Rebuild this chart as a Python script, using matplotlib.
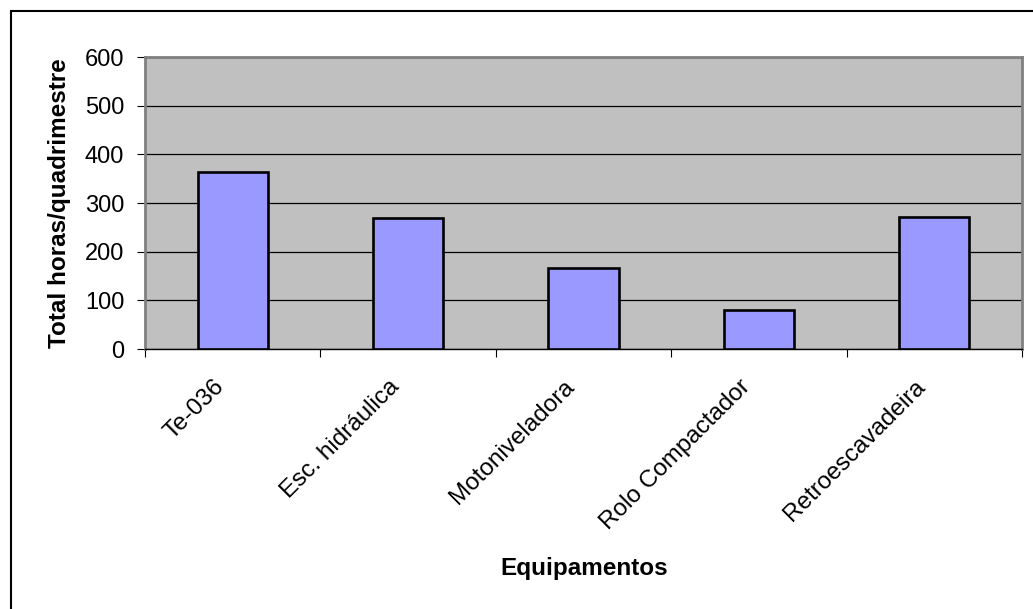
import numpy as np
import matplotlib.pyplot as plt
import matplotlib.transforms as mtransforms
from matplotlib.patches import Rectangle

plt.rcParams['font.family'] = ['Liberation Sans', 'DejaVu Sans']

equipamentos = ["Te-036", "Esc. hidráulica", "Motoniveladora", "Rolo Compactador", "Retroescavadeira"]
horas = [363, 269, 167, 80, 271]
y_ticks = [0, 100, 200, 300, 400, 500, 600]

fig = plt.figure(figsize=(10.33, 6.09), dpi=100)

# outer chart frame (only top and left edges fall inside the image)
fig.patches.append(Rectangle((11 / 1033, -0.1), 1.2, 1 - 11 / 609 + 0.1,
                             transform=fig.transFigure, fill=False,
                             edgecolor='black', linewidth=1.5))

ax = fig.add_axes([145 / 1033, 1 - 349 / 609, (1022 - 145) / 1033, (349 - 57) / 609])
ax.set_facecolor('#C0C0C0')

x = np.arange(len(equipamentos))
ax.bar(x, horas, width=0.4, color='#9999FF', edgecolor='black', linewidth=1.9, zorder=3)

ax.set_xlim(-0.5, len(equipamentos) - 0.5)
ax.set_ylim(0, 600)
ax.set_yticks(y_ticks)
ax.set_yticklabels([str(v) for v in y_ticks], fontsize=17)
ax.yaxis.grid(True, color='black', linewidth=0.9, zorder=1)

# category ticks sit on the boundaries, labels in the middle
ax.set_xticks(np.arange(-0.5, len(equipamentos)), minor=False)
ax.set_xticklabels([])
ax.set_xticks(x, minor=True)
ax.set_xticklabels(equipamentos, minor=True, rotation=45, ha='right', va='top',
                   rotation_mode='anchor', fontsize=17.5)
ax.tick_params(axis='x', which='minor', length=0, pad=12)
ax.tick_params(axis='x', which='major', length=6, direction='out', color='black')
ax.tick_params(axis='y', length=6, direction='out', color='black', pad=9)

# nudge the slanted labels left so they hang under their bars
shift = mtransforms.ScaledTranslation(-20 / 100, -10 / 100, fig.dpi_scale_trans)
for lbl in ax.get_xticklabels(minor=True):
    lbl.set_transform(lbl.get_transform() + shift)

for side in ['top', 'right', 'left']:
    ax.spines[side].set_color('#808080')
    ax.spines[side].set_linewidth(2)
ax.spines['bottom'].set_color('black')
ax.spines['bottom'].set_linewidth(1)

ax.set_ylabel("Total horas/quadrimestre", fontsize=17.5, fontweight='bold', labelpad=10)
fig.text(584 / 1033, 1 - 568 / 609, "Equipamentos", fontsize=17.5, fontweight='bold',
         ha='center', va='center')

fig.savefig("out.png", dpi=100)
